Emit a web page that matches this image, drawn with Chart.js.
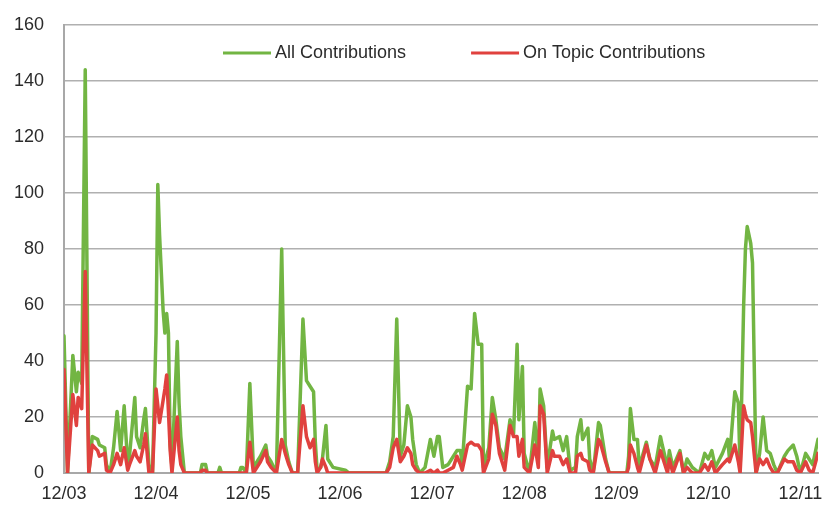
<!DOCTYPE html>
<html>
<head>
<meta charset="utf-8">
<script src="https://cdn.jsdelivr.net/npm/chart.js@4.4.1/dist/chart.umd.min.js"></script>
<style>
  html, body { margin: 0; padding: 0; background: #fff; }
  #chart { display: block; }
</style>
</head>
<body>
<canvas id="chart" width="824" height="510"></canvas>
<script>
// week number since Dec 2003 for each read point
const weeks = [
  0, 2, 5, 7, 8, 10, 12, 14, 16, 19, 20, 23, 24, 26, 28, 30, 32, 34, 36, 37, 40, 41, 43, 45, 46, 48, 50,
  52, 53, 54, 56, 57, 58, 59, 60, 61, 64, 65, 66, 68, 77, 78, 80, 81, 87, 88, 89, 99, 100, 101, 103,
  105, 107, 111, 114, 115, 117, 120, 123, 125, 127, 129, 132, 135, 137, 139, 141, 142, 143, 145, 146, 148, 149, 152, 159, 161,
  182, 183, 184, 186, 188, 190, 192, 194, 196, 197, 199, 201, 204, 207, 209, 211, 212, 214, 217, 220, 222, 224, 225,
  228, 230, 232, 234, 236, 237, 240, 242, 244, 246, 249, 252, 254, 256, 257, 259, 260, 263, 266, 268, 269, 271, 273,
  276, 277, 280, 282, 284, 286, 289, 290, 292, 293, 296, 297, 299, 302, 303, 306, 308, 318, 319, 320, 322, 324, 325,
  329, 331, 334, 337, 338, 341, 342, 344, 348, 350, 352, 355, 359, 362, 364, 366, 368, 372, 375, 376, 379, 381, 382,
  384, 385, 386, 388, 389, 391, 393, 395, 397, 399, 401, 403, 407, 409, 412, 414, 416, 419, 421, 423, 426
];

const allContributions = [
  49, 0, 42, 29, 36, 32, 144, 0, 13, 12, 10, 9, 3, 0, 9, 22, 8, 24, 3, 6, 27, 13, 9, 19, 23, 3, 0,
  50, 103, 85, 58, 50, 57, 50, 10, 2, 47, 25, 13, 0, 0, 3, 3, 0, 0, 2, 0, 0, 2, 2, 0,
  32, 2, 6, 10, 6, 4, 0, 80, 10, 4, 0, 0, 55, 33, 31, 29, 11, 1, 2, 5, 17, 5, 2, 1, 0,
  0, 2, 4, 13, 55, 6, 10, 24, 20, 12, 3, 0, 2, 12, 6, 13, 13, 2, 3, 6, 8, 8, 3,
  31, 30, 57, 46, 46, 2, 9, 27, 19, 9, 5, 19, 14, 46, 19, 38, 7, 0, 18, 5, 30, 24, 2,
  15, 12, 13, 8, 13, 1, 2, 13, 19, 12, 16, 5, 0, 18, 17, 5, 0, 0, 6, 23, 12, 12, 2,
  11, 5, 2, 13, 10, 2, 8, 2, 8, 0, 5, 2, 0, 7, 5, 8, 2, 7, 12, 5, 29, 25, 1,
  60, 80, 88, 82, 75, 0, 7, 20, 8, 7, 3, 0, 6, 8, 10, 6, 0, 7, 5, 3, 12
];

const onTopicContributions = [
  37, 0, 28, 17, 27, 23, 72, 0, 10, 8, 6, 7, 1, 0, 3, 7, 3, 9, 1, 3, 8, 6, 4, 10, 14, 0, 0,
  30, 24, 18, 26, 30, 35, 22, 8, 0, 20, 8, 3, 0, 0, 1, 1, 0, 0, 0, 0, 0, 0, 0, 0,
  11, 0, 4, 8, 4, 2, 0, 12, 7, 3, 0, 0, 24, 13, 9, 12, 4, 0, 2, 5, 2, 0, 0, 0, 0,
  0, 1, 2, 9, 12, 4, 6, 9, 7, 3, 1, 0, 0, 1, 0, 1, 0, 0, 1, 2, 6, 3, 1,
  10, 11, 10, 10, 8, 0, 5, 21, 17, 7, 1, 17, 13, 13, 6, 12, 2, 0, 10, 2, 24, 21, 0,
  8, 6, 6, 3, 5, 0, 0, 6, 7, 5, 4, 1, 0, 12, 11, 4, 0, 0, 2, 10, 7, 2, 0,
  10, 5, 0, 8, 6, 0, 5, 0, 7, 0, 2, 0, 0, 3, 1, 4, 0, 3, 5, 4, 10, 4, 0,
  24, 21, 19, 18, 13, 0, 5, 3, 5, 2, 0, 0, 5, 4, 4, 1, 0, 4, 1, 0, 7
];

const tickLabels = ['12/03', '12/04', '12/05', '12/06', '12/07', '12/08', '12/09', '12/10', '12/11'];
const seriesNames = ['All Contributions', 'On Topic Contributions'];

const GREEN = '#72b543';
const RED = '#e0413e';
const FONT = "'Liberation Sans', Arial, sans-serif";

// legend sits inside the plot area, like the original spreadsheet chart
const insideLegend = {
  id: 'insideLegend',
  afterDraw(chart) {
    const { ctx, chartArea } = chart;
    const y = chartArea.top + 28;
    let x = 223;
    ctx.save();
    ctx.font = '18px ' + FONT;
    ctx.textBaseline = 'middle';
    chart.data.datasets.forEach((ds) => {
      ctx.strokeStyle = ds.borderColor;
      ctx.lineWidth = 3;
      ctx.beginPath();
      ctx.moveTo(x, y);
      ctx.lineTo(x + 48, y);
      ctx.stroke();
      ctx.fillStyle = '#2b2b2b';
      ctx.fillText(ds.label, x + 52, y);
      x += 52 + ctx.measureText(ds.label).width + 65;
    });
    ctx.restore();
  },
};

const toPoints = (values) => weeks.map((w, i) => ({ x: w, y: values[i] }));

new Chart(document.getElementById('chart').getContext('2d'), {
  type: 'line',
  data: {
    datasets: [
      {
        label: seriesNames[0],
        data: toPoints(allContributions),
        borderColor: GREEN,
        backgroundColor: GREEN,
        borderWidth: 3.5,
        order: 2,
      },
      {
        label: seriesNames[1],
        data: toPoints(onTopicContributions),
        borderColor: RED,
        backgroundColor: RED,
        borderWidth: 3.5,
        order: 1,
      },
    ],
  },
  options: {
    responsive: false,
    animation: false,
    devicePixelRatio: 1,
    elements: {
      point: { radius: 0 },
      line: { tension: 0, borderJoinStyle: 'round', borderCapStyle: 'round' },
    },
    layout: { padding: { left: 14, right: 6, top: 25, bottom: 5 } },
    plugins: {
      legend: { display: false },
      tooltip: { enabled: false },
    },
    scales: {
      x: {
        type: 'linear',
        min: 0,
        max: 426,
        grid: { display: false, drawTicks: false },
        border: { display: true, color: '#a8a8a8', width: 2 },
        afterBuildTicks: (scale) => {
          scale.ticks = tickLabels.map((_, i) => ({ value: i * 52 }));
        },
        afterFit: (scale) => {
          scale.height = 32;
          scale.paddingRight = 0;
        },
        ticks: {
          autoSkip: false,
          maxRotation: 0,
          padding: 10,
          color: '#2b2b2b',
          font: { family: FONT, size: 18 },
          callback: (v) => tickLabels[v / 52],
        },
      },
      y: {
        min: 0,
        max: 160,
        grid: { color: '#b0b0b0', lineWidth: 1.5, drawTicks: false },
        border: { display: true, color: '#a8a8a8', width: 2 },
        afterFit: (scale) => {
          scale.width = 50;
          scale.paddingTop = 0;
          scale.paddingBottom = 0;
        },
        ticks: {
          stepSize: 20,
          padding: 20,
          color: '#2b2b2b',
          font: { family: FONT, size: 18 },
        },
      },
    },
  },
  plugins: [insideLegend],
});
</script>
</body>
</html>
